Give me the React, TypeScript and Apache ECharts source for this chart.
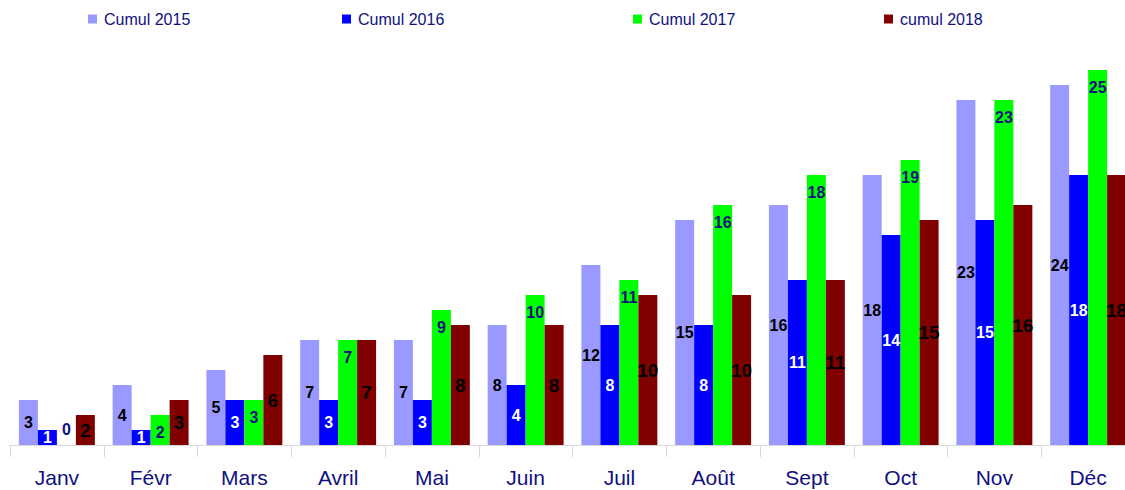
import React, { useEffect, useRef } from "react";
import * as echarts from "echarts";

const months = ["Janv", "Févr", "Mars", "Avril", "Mai", "Juin", "Juil", "Août", "Sept", "Oct", "Nov", "Déc"];
const cumul2015 = [3, 4, 5, 7, 7, 8, 12, 15, 16, 18, 23, 24];
const cumul2016 = [1, 1, 3, 3, 3, 4, 8, 8, 11, 14, 15, 18];
const cumul2017 = [0, 2, 3, 7, 9, 10, 11, 16, 18, 19, 23, 25];
const cumul2018 = [2, 3, 6, 7, 8, 8, 10, 10, 11, 15, 16, 18];
const seriesNames = ["Cumul 2015", "Cumul 2016", "Cumul 2017", "cumul 2018"];
const legendLefts = [83, 337, 628, 879];

const NAVY = "#10107f";
const FONT = "'Liberation Sans', Arial, sans-serif";

export default function App() {
  const ref = useRef<HTMLDivElement>(null);
  useEffect(() => {
    if (!ref.current) return;
    const chart = echarts.init(ref.current, null, { renderer: "svg" });
    const colors = ["#9999ff", "#0000ff", "#00ff00", "#800000"];
    const labelStyles = [
      { position: "inside", color: "#000000", fontSize: 16 },
      { position: "inside", color: "#ffffff", fontSize: 16 },
      { position: "insideTop", color: NAVY, fontSize: 16, distance: 9 },
      { position: "inside", color: "#000000", fontSize: 19 },
    ];
    const datas = [cumul2015, cumul2016, cumul2017, cumul2018];
    chart.setOption({
      animation: false,
      textStyle: { fontFamily: FONT },
      legend: seriesNames.map((n, i) => ({
        data: [n],
        left: legendLefts[i],
        top: 6,
        icon: "rect",
        itemWidth: 9,
        itemHeight: 9,
        textStyle: { color: NAVY, fontSize: 16, fontFamily: FONT, padding: [0, 0, 0, 2] },
      })),
      grid: { left: 10, width: 1125, top: 55, height: 390, containLabel: false },
      xAxis: {
        type: "category",
        data: months,
        axisLine: { lineStyle: { color: "#d9d9d9", width: 1 } },
        axisTick: { show: true, length: 12, lineStyle: { color: "#d9d9d9" } },
        axisLabel: { color: NAVY, fontSize: 21, margin: 22, fontFamily: FONT },
      },
      yAxis: {
        type: "value",
        min: 0,
        max: 26,
        show: false,
        splitLine: { show: false },
      },
      series: datas.map((d, i) => ({
        name: seriesNames[i],
        type: "bar",
        barGap: "0%",
        barCategoryGap: "19%",
        itemStyle: { color: colors[i] },
        label: {
          show: true,
          fontWeight: "bold",
          fontFamily: FONT,
          ...labelStyles[i],
        },
        data: d.map((v) =>
          v === 0 ? { value: v, label: { position: "top", distance: 8 } } : v
        ),
      })),
    });
    return () => chart.dispose();
  }, []);
  return (
    <div
      ref={ref}
      style={{ position: "fixed", left: 0, top: 0, width: 1140, height: 490, background: "#fff" }}
    />
  );
}
